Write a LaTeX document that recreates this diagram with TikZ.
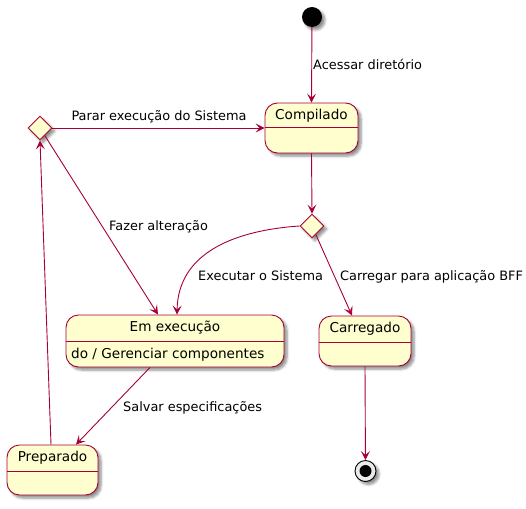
\documentclass[tikz,border=0pt]{standalone}
\usepackage{fontspec}
\setmainfont{DejaVu Sans}
\usetikzlibrary{shapes.geometric,arrows.meta,shadows.blur}
\definecolor{umlborder}{HTML}{A80036}
\definecolor{umlfill}{HTML}{FEFECE}
\begin{document}
\begin{tikzpicture}[x=1pt,y=-1pt,
  shadowed/.style={blur shadow={shadow xshift=3pt,shadow yshift=-3pt,shadow blur steps=6,shadow blur radius=2.5pt,shadow opacity=45}},
  statebox/.style={draw=umlborder,fill=umlfill,line width=0.9pt,rounded corners=12.5pt,inner sep=0,shadowed},
  choice/.style={draw=umlborder,fill=umlfill,line width=0.9pt,shape=diamond,aspect=1,minimum width=24pt,minimum height=24pt,inner sep=0,shadowed},
  stitle/.style={font=\fontsize{13.6}{16}\selectfont,text=black,inner sep=0},
  elabel/.style={font=\fontsize{12.9}{15}\selectfont,text=black,inner sep=0},
  trans/.style={draw=umlborder,line width=0.9pt,-{Stealth[length=9pt,width=9pt,inset=4pt]}},
  sepline/.style={draw=umlborder,line width=0.9pt}
]
\useasboundingbox (0,0) rectangle (526,508);

% start / end
\node[circle,fill=black,minimum size=20pt,inner sep=0,shadowed] (start) at (312,17) {};
\node[circle,draw=black,fill=black!8,line width=0.9pt,minimum size=21pt,inner sep=0,shadowed] (end) at (365.5,471) {};
\node[circle,fill=black,minimum size=12pt,inner sep=0] (endin) at (365.5,471) {};

% states
\node[statebox,minimum width=93pt,minimum height=50pt] (comp) at (311.5,128) {};
\draw[sepline] ([yshift=-25pt]comp.north west) -- ([yshift=-25pt]comp.north east);
\node[stitle] (compt) at (311.5,116) {Compilado};

\node[statebox,minimum width=218pt,minimum height=52pt] (exec) at (175,341) {};
\draw[sepline] ([yshift=-27pt]exec.north west) -- ([yshift=-27pt]exec.north east);
\node[stitle] (exect) at (175,328) {Em execução};
\node[stitle,anchor=west] (execd) at (71,355) {do / Gerenciar componentes};

\node[statebox,minimum width=91pt,minimum height=50pt] (prep) at (52.5,470) {};
\draw[sepline] ([yshift=-27pt]prep.north west) -- ([yshift=-27pt]prep.north east);
\node[stitle] (prept) at (52.5,458) {Preparado};

\node[statebox,minimum width=92pt,minimum height=50pt] (carr) at (365,341) {};
\draw[sepline] ([yshift=-27pt]carr.north west) -- ([yshift=-27pt]carr.north east);
\node[stitle] (carrt) at (365,329) {Carregado};

% choices
\node[choice] (d1) at (312,226) {};
\node[choice] (d2) at (40,128) {};

% transitions
\draw[trans] (start) -- (comp.north);
\node[elabel,anchor=west] (l1) at (313,64) {Acessar diretório};

\draw[trans] (comp.south) -- (d1.north);

\draw[trans] (d2.east) -- (comp.west);
\node[elabel] (l2) at (159,117) {Parar execução do Sistema};

\draw[trans] (d1) -- ([xshift=-13pt]carr.north);
\node[elabel,anchor=west] (l3) at (340,277) {Carregar para aplicação BFF};

\draw[trans] (d1.west) .. controls (240,230) and (178,250) .. ([xshift=2pt]exec.north);
\node[elabel,anchor=west] (l4) at (198,276) {Executar o Sistema};

\draw[trans] (d2) -- ([xshift=-17pt]exec.north);
\node[elabel,anchor=west] (l5) at (109,227) {Fazer alteração};

\draw[trans] ([xshift=-25pt]exec.south) -- ([xshift=23.5pt]prep.north);
\node[elabel,anchor=west] (l6) at (123,408) {Salvar especificações};

\draw[trans] ([xshift=-1.5pt]prep.north) -- (d2.south);

\draw[trans] (carr.south) -- (end);
\end{tikzpicture}
\end{document}
